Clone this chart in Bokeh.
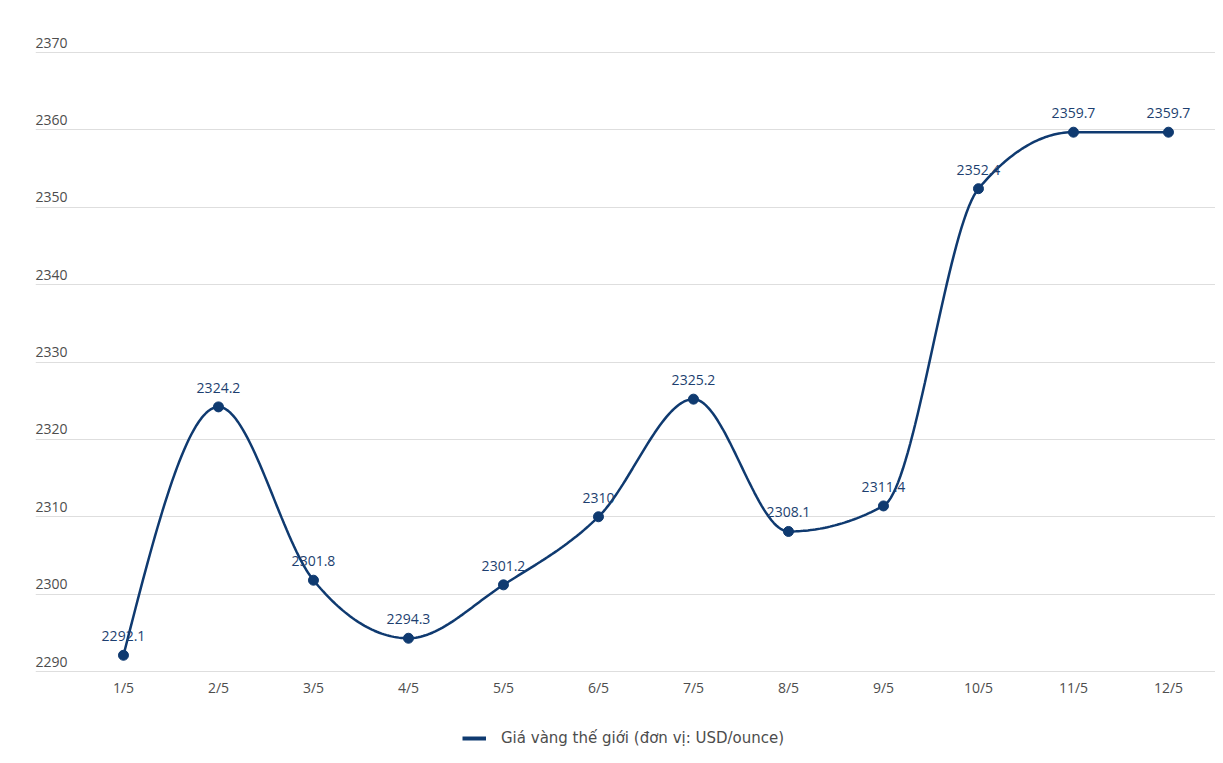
import numpy as np
from bokeh.plotting import figure
from bokeh.models import ColumnDataSource, FixedTicker, Range1d, Legend, LegendItem
from bokeh.core.properties import value
from bokeh.embed import file_html
from bokeh.resources import INLINE

dates = ["1/5", "2/5", "3/5", "4/5", "5/5", "6/5", "7/5", "8/5", "9/5", "10/5", "11/5", "12/5"]
prices = [2292.1, 2324.2, 2301.8, 2294.3, 2301.2, 2310, 2325.2, 2308.1, 2311.4, 2352.4, 2359.7, 2359.7]
price_labels = ["2292.1", "2324.2", "2301.8", "2294.3", "2301.2", "2310", "2325.2", "2308.1", "2311.4", "2352.4", "2359.7", "2359.7"]
y_ticks = [2290, 2300, 2310, 2320, 2330, 2340, 2350, 2360, 2370]
series_name = "Giá vàng thế giới (đơn vị: USD/ounce)"

LINE = "#0f3a70"
TXT = "#4d4d4d"
GRID = "#dedede"
FONT = "Open Sans"

xs = np.arange(len(prices), dtype=float)
ys = np.array(prices, dtype=float)


def monotone_curve(x, y, steps=40):
    n = len(x)
    h = np.diff(x)
    s = np.diff(y) / h
    t = np.zeros(n)
    for i in range(1, n - 1):
        s0, s1 = s[i - 1], s[i]
        p = (s0 * h[i] + s1 * h[i - 1]) / (h[i - 1] + h[i])
        t[i] = (np.sign(s0) + np.sign(s1)) * min(abs(s0), abs(s1), 0.5 * abs(p))
    t[0] = (3 * s[0] - t[1]) / 2
    t[-1] = (3 * s[-1] - t[-2]) / 2
    cx, cy = [], []
    u = np.linspace(0, 1, steps)
    for i in range(n - 1):
        dx = x[i + 1] - x[i]
        p0 = (x[i], y[i])
        p1 = (x[i] + dx / 3, y[i] + dx * t[i] / 3)
        p2 = (x[i + 1] - dx / 3, y[i + 1] - dx * t[i + 1] / 3)
        p3 = (x[i + 1], y[i + 1])
        bx = (1 - u) ** 3 * p0[0] + 3 * (1 - u) ** 2 * u * p1[0] + 3 * (1 - u) * u ** 2 * p2[0] + u ** 3 * p3[0]
        by = (1 - u) ** 3 * p0[1] + 3 * (1 - u) ** 2 * u * p1[1] + 3 * (1 - u) * u ** 2 * p2[1] + u ** 3 * p3[1]
        cx.extend(bx.tolist())
        cy.extend(by.tolist())
    return cx, cy


cx, cy = monotone_curve(xs, ys)

x_start, x_end = -0.926, 11.495
y_start, y_end = 2278.5, 2372.585
p = figure(width=1215, height=760, output_backend="svg", toolbar_location=None,
           x_range=Range1d(x_start, x_end), y_range=Range1d(y_start, y_end),
           min_border_left=35, min_border_right=0, min_border_top=32, min_border_bottom=0)
p.outline_line_color = None
p.background_fill_color = "white"
p.border_fill_color = "white"

p.xaxis.visible = False
p.yaxis.visible = False
p.ygrid.ticker = FixedTicker(ticks=y_ticks)
p.ygrid.grid_line_color = GRID
p.ygrid.grid_line_width = 1
p.xgrid.visible = False

# y tick labels above gridlines at left
ysrc = ColumnDataSource(dict(x=[x_start] * len(y_ticks), y=y_ticks, t=[str(v) for v in y_ticks]))
p.text(x="x", y="y", text="t", source=ysrc, text_font=value(FONT), text_font_size="14px",
       text_color=TXT, text_align="left", text_baseline="bottom", x_offset=0, y_offset=-5)

# x category labels below the baseline
xsrc = ColumnDataSource(dict(x=xs, y=[y_ticks[0]] * len(dates), t=dates))
p.text(x="x", y="y", text="t", source=xsrc, text_font=value(FONT), text_font_size="14px",
       text_color=TXT, text_align="center", text_baseline="top", y_offset=6)

p.line(cx, cy, line_color=LINE, line_width=2.5)
src = ColumnDataSource(dict(x=xs, y=ys, t=price_labels))
p.scatter(x="x", y="y", source=src, size=10, fill_color=LINE, line_color=LINE)
p.text(x="x", y="y", text="t", source=src, text_font=value(FONT), text_font_size="14px",
       text_color="#1d3f70", text_align="center", text_baseline="bottom", y_offset=-14)

leg_r = p.line(x=[float("nan")], y=[float("nan")], line_color=LINE, line_width=4)
legend = Legend(items=[LegendItem(label=series_name, renderers=[leg_r])], location=(427, 13),
                orientation="horizontal", label_text_font="DejaVu Sans", label_text_font_size="15px",
                label_text_color=TXT, glyph_width=24, glyph_height=16, border_line_color=None,
                background_fill_alpha=0, padding=4, margin=0, label_standoff=15)
p.add_layout(legend, "center")

open("out.html", "w").write(file_html(p, INLINE))
